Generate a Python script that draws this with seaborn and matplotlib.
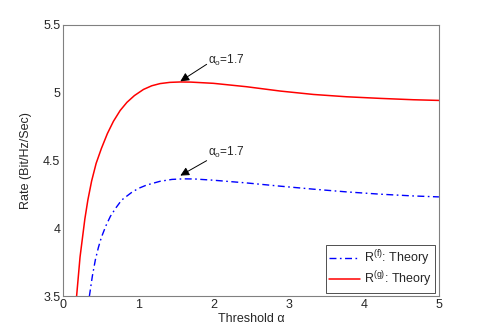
import seaborn as sns
import matplotlib.pyplot as plt
import pandas as pd

# values
alpha_g = [0.18, 0.226, 0.29, 0.33, 0.38, 0.44, 0.51, 0.59, 0.67, 0.76, 0.85, 0.95, 1.07,
           1.18, 1.29, 1.42, 1.56, 1.70, 2.00, 2.44, 2.89, 3.33, 3.77, 4.22, 4.66, 5.00]
rate_g = [3.50, 3.79, 4.07, 4.21, 4.35, 4.48, 4.59, 4.70, 4.79, 4.87, 4.93, 4.98, 5.025,
          5.052, 5.068, 5.077, 5.08, 5.079, 5.07, 5.045, 5.013, 4.988, 4.971, 4.959, 4.949, 4.944]

alpha_f = [0.35, 0.39, 0.43, 0.47, 0.51, 0.57, 0.63, 0.70, 0.78, 0.91, 1.00, 1.11, 1.29,
           1.45, 1.60, 1.75, 2.00, 2.44, 2.89, 3.33, 3.77, 4.22, 4.66, 5.00]
rate_f = [3.50, 3.65, 3.77, 3.86, 3.935, 4.02, 4.09, 4.15, 4.21, 4.265, 4.295, 4.32, 4.348,
          4.362, 4.366, 4.365, 4.356, 4.336, 4.312, 4.29, 4.27, 4.253, 4.24, 4.233]

labels = [r'R$^{(f)}$: Theory', r'R$^{(g)}$: Theory']
note = r'$\alpha_o$=1.7'

df_f = pd.DataFrame({'alpha': alpha_f, 'rate': rate_f})
df_g = pd.DataFrame({'alpha': alpha_g, 'rate': rate_g})

sns.set_style('white')
plt.rcParams['font.family'] = ['Liberation Sans', 'DejaVu Sans']
plt.rcParams['mathtext.fontset'] = 'custom'
plt.rcParams['mathtext.rm'] = 'Liberation Sans'
plt.rcParams['mathtext.it'] = 'Liberation Sans'

fig = plt.figure(figsize=(4.85, 3.33), dpi=100)
ax = fig.add_axes([0.13, 0.11, 0.775, 0.815])

sns.lineplot(data=df_f, x='alpha', y='rate', ax=ax, color='#0000ff', lw=1.0,
             linestyle='-.', label=labels[0], sort=False)
sns.lineplot(data=df_g, x='alpha', y='rate', ax=ax, color='#ff0000', lw=1.1,
             label=labels[1], sort=False)
ax.lines[0].set_dashes([5, 2.5, 1.2, 2.5])

ax.set_xlim(0, 5)
ax.set_ylim(3.5, 5.5)
ax.set_xticks([0, 1, 2, 3, 4, 5])
ax.set_yticks([3.5, 4, 4.5, 5, 5.5])
ax.set_yticklabels(['3.5', '4', '4.5', '5', '5.5'])
ax.tick_params(direction='in', length=4, width=0.6, labelsize=9, color='#404040', pad=2)
for s in ax.spines.values():
    s.set_color('#808080')
    s.set_linewidth(0.8)

ax.set_xlabel('Threshold α', fontsize=9, labelpad=1)
ax.set_ylabel('Rate (Bit/Hz/Sec)', fontsize=9, labelpad=8)

# arrows pointing at the peaks
for tail, tip, txt in [((1.91, 5.21), (1.56, 5.085), (1.93, 5.235)),
                       ((1.91, 4.50), (1.56, 4.39), (1.93, 4.56))]:
    ax.annotate('', xy=tip, xytext=tail,
                arrowprops=dict(arrowstyle='-|>', color='black', lw=0.7, mutation_scale=13,
                                shrinkA=0, shrinkB=0))
    ax.text(txt[0], txt[1], note, fontsize=8.5, ha='left', va='center')

leg = ax.legend(loc='lower right', fontsize=9, frameon=True, fancybox=False,
                borderaxespad=0.3, handlelength=2.5, handletextpad=0.3,
                borderpad=0.25, labelspacing=0.15)
leg.get_frame().set_edgecolor('black')
leg.get_frame().set_linewidth(0.6)

fig.savefig('out.png', dpi=100)
